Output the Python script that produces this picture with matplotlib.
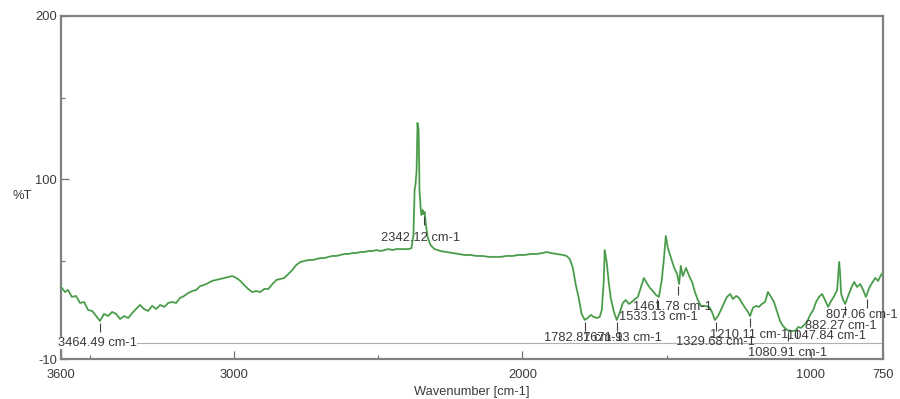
import matplotlib
matplotlib.use("Agg")
import matplotlib.pyplot as plt
from matplotlib.ticker import FixedLocator

# Spectrum (wavenumber in cm-1, transmittance in %T)
wavenumber = [
    3600, 3586, 3576, 3562, 3548, 3534, 3520, 3506, 3492, 3478, 3465, 3451, 3437,
    3423, 3409, 3395, 3381, 3367, 3353, 3340, 3326, 3312, 3298, 3284, 3270, 3256,
    3242, 3228, 3215, 3201, 3187, 3173, 3159, 3145, 3131, 3117, 3104, 3090, 3076,
    3062, 3048, 3034, 3020, 3006, 2992, 2978, 2965, 2951, 2937, 2923, 2909, 2895,
    2881, 2867, 2853, 2840, 2826, 2812, 2798, 2784, 2770, 2756, 2742, 2728, 2715,
    2701, 2687, 2673, 2659, 2645, 2631, 2617, 2603, 2590, 2576, 2562, 2548, 2534,
    2520, 2506, 2492, 2478, 2465, 2451, 2437, 2423, 2409, 2395, 2385, 2378, 2374,
    2371, 2367, 2364, 2360, 2357, 2353, 2350, 2346, 2343, 2339, 2336, 2329, 2319,
    2305, 2284, 2263, 2242, 2222, 2201, 2180, 2159, 2138, 2117, 2097, 2076, 2055,
    2034, 2013, 1992, 1972, 1951, 1930, 1916, 1902, 1881, 1860, 1847, 1836, 1826,
    1815, 1805, 1795, 1784, 1774, 1763, 1753, 1742, 1732, 1725, 1718, 1715, 1708,
    1701, 1694, 1683, 1673, 1663, 1652, 1642, 1631, 1621, 1610, 1600, 1590, 1579,
    1569, 1558, 1548, 1537, 1527, 1517, 1510, 1503, 1496, 1485, 1475, 1464, 1457,
    1451, 1444, 1433, 1426, 1419, 1412, 1402, 1392, 1381, 1367, 1353, 1343, 1333,
    1322, 1312, 1301, 1291, 1280, 1270, 1259, 1249, 1239, 1228, 1218, 1211, 1201,
    1190, 1180, 1170, 1159, 1149, 1138, 1128, 1117, 1107, 1097, 1083, 1069, 1055,
    1044, 1034, 1024, 1013, 1003, 992, 982, 972, 961, 951, 940, 930, 919, 909,
    902, 899, 895, 888, 881, 871, 860, 850, 840, 829, 819, 809, 798, 788, 777,
    767, 757, 750,
]
transmittance = [
    34.1, 31.0, 32.3, 28.0, 28.6, 24.3, 24.9, 20.0, 19.4, 16.3, 13.3, 17.6, 16.3,
    18.8, 17.6, 14.5, 16.3, 15.1, 18.2, 20.6, 23.1, 20.6, 19.4, 22.5, 20.6, 23.1,
    21.9, 24.3, 24.9, 24.3, 27.4, 28.6, 30.4, 31.6, 32.3, 34.7, 35.3, 36.5, 37.8,
    38.4, 39.0, 39.6, 40.2, 40.8, 39.6, 37.8, 35.3, 32.9, 31.0, 31.6, 31.0, 32.9,
    32.9, 35.9, 38.4, 39.0, 39.6, 42.0, 44.5, 47.6, 49.4, 50.0, 50.6, 50.6, 51.2,
    51.8, 51.8, 52.5, 53.1, 53.1, 53.7, 54.3, 54.3, 54.9, 54.9, 55.5, 55.5, 56.1,
    56.1, 56.7, 56.1, 56.7, 57.3, 56.7, 57.3, 57.3, 57.3, 57.3, 57.9, 65.9, 93.5,
    96.5, 105.7, 134.5, 130.2, 93.5, 82.5, 78.2, 81.2, 78.8, 80.0, 73.9, 64.7, 59.8,
    57.3, 56.1, 55.5, 54.9, 54.3, 53.7, 53.7, 53.1, 53.1, 52.5, 52.5, 52.5, 53.1,
    53.1, 53.7, 53.7, 54.3, 54.3, 54.9, 55.5, 54.9, 54.3, 53.7, 53.1, 51.2, 46.3,
    35.3, 27.4, 17.6, 13.9, 15.1, 17.0, 15.8, 15.1, 15.8, 20.0, 38.4, 56.7, 49.4,
    37.2, 27.4, 18.8, 13.9, 18.2, 24.3, 26.1, 23.7, 24.9, 26.7, 28.0, 33.5, 39.6,
    36.5, 33.5, 31.6, 29.2, 28.0, 38.4, 50.6, 65.3, 58.0, 51.8, 46.3, 42.0, 35.9,
    47.0, 40.8, 45.7, 42.7, 39.6, 37.2, 31.0, 26.1, 22.5, 22.5, 21.9, 18.8, 13.9,
    16.3, 20.0, 24.3, 28.0, 29.8, 26.7, 28.6, 27.4, 24.3, 21.3, 18.8, 16.3, 21.3,
    22.5, 21.9, 23.7, 24.9, 31.0, 28.0, 24.9, 18.8, 13.3, 10.2, 7.8, 7.2, 7.2,
    9.6, 9.0, 10.8, 12.7, 16.9, 20.0, 24.9, 28.0, 29.8, 26.1, 21.9, 25.5, 28.6, 32.3,
    49.4, 43.3, 29.8, 26.1, 23.7, 28.6, 33.5, 37.2, 34.1, 35.9, 32.3, 28.0, 33.5, 36.5, 39.6,
    37.8, 41.4, 42.7,
]

# Peak picks: position, %T at the pick, label anchor (left edge, vertical centre)
peak_wn = [3464.49, 2342.12, 1782.87, 1671.93, 1533.13, 1461.78,
           1329.68, 1210.11, 1080.91, 1047.84, 882.27, 807.06]
peak_t = [13.3, 78.8, 13.9, 13.9, 28.0, 35.9, 13.9, 16.3, 7.8, 9.6, 23.7, 28.0]
label_x = [3610, 2489, 1926, 1791, 1666, 1617, 1468, 1350, 1218, 1083, 1020, 947]
label_y = [-0.2, 64.1, 2.9, 2.9, 15.7, 21.8, 0.4, 4.7, -6.3, 4.1, 10.2, 17.0]

x_ticks = [3600, 3000, 2000, 1000, 750]
y_ticks = [-10, 100, 200]

FONT = "Liberation Sans"
TXT = "#3a3a3a"


def main() -> None:
    plt.rcParams["font.family"] = [FONT, "DejaVu Sans"]
    fig = plt.figure(figsize=(9.0, 3.99), dpi=100)
    ax = fig.add_axes([61 / 900, 1 - 359 / 399, 822 / 900, 343 / 399])

    # light green trace with a faint darker core, like the instrument printout
    ax.plot(wavenumber, transmittance, color="#63b863", lw=1.4, zorder=3)
    ax.plot(wavenumber, transmittance, color="#2f5f2f", lw=0.5, alpha=0.6,
            zorder=3)

    # zero line used as the peak-label baseline
    ax.axhline(0, color="#b0b0b0", lw=0.8, zorder=1)

    for i, wn in enumerate(peak_wn):
        ax.vlines(wn, peak_t[i] - 7, peak_t[i] - 1, color="#404040", lw=0.8,
                  zorder=4)
        bbox = dict(fc="white", ec="none", pad=0.2) if i == 0 else None
        ax.text(label_x[i], label_y[i], f"{wn:.2f} cm-1", ha="left",
                va="center", fontsize=9.3, color=TXT, clip_on=False,
                zorder=5, bbox=bbox)

    ax.set_xlim(3600, 750)
    ax.set_ylim(-10, 200)
    ax.set_xticks(x_ticks)
    ax.set_xticklabels([str(v) for v in x_ticks])
    ax.set_yticks(y_ticks)
    ax.set_yticklabels([str(v) for v in y_ticks])
    ax.xaxis.set_minor_locator(FixedLocator([3500, 2500, 1500]))
    ax.yaxis.set_minor_locator(FixedLocator([50, 150]))
    ax.tick_params(which="major", direction="in", length=6, width=0.9,
                   colors="#707070", labelcolor=TXT, labelsize=9.3, pad=3)
    ax.tick_params(axis="x", which="major", pad=7.5)
    ax.tick_params(which="minor", direction="in", length=3, width=0.8,
                   colors="#707070")
    for sp in ax.spines.values():
        sp.set_color("#808080")
        sp.set_linewidth(1.6)

    ax.set_xlabel("Wavenumber [cm-1]", fontsize=9.3, color=TXT, labelpad=3)
    fig.text(22 / 900, 1 - 196 / 399, "%T", ha="center", va="center",
             fontsize=9.3, color=TXT)

    fig.savefig("out.png", dpi=100)
    plt.close(fig)


if __name__ == "__main__":
    main()
